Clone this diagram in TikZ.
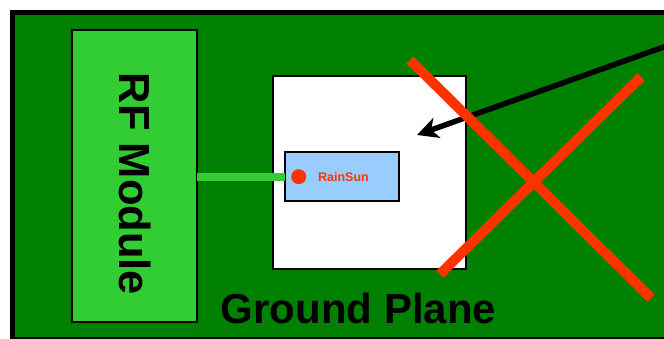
\documentclass[tikz,border=0pt]{standalone}
\usepackage{fontspec}
\setmainfont{Liberation Sans}
\usetikzlibrary{arrows.meta}
\definecolor{planegreen}{HTML}{008000}
\definecolor{modgreen}{HTML}{32CD32}
\definecolor{chipblue}{HTML}{99CCFF}
\definecolor{xred}{HTML}{FF3300}
\tikzset{
  box/.style={draw=black, line width=1.2pt, inner sep=0pt, outer sep=0pt},
  cross/.style={draw=xred, line width=10pt},
  pointer/.style={draw=black, line width=5.5pt, -{Stealth[length=21pt,width=21pt,inset=6pt]}},
}
\begin{document}
\begin{tikzpicture}[x=1pt,y=-1pt]
  \useasboundingbox (0,0) rectangle (664,338);
  \fill[white] (0,0) rectangle (664,338);
  \clip (0,0) rectangle (664,338);
  % ground plane
  \draw[fill=planegreen, line width=5pt] (12.5,12.5) rectangle (690,339);
  % RF module
  \node[box, fill=modgreen, minimum width=125pt, minimum height=292pt] (rf) at (134.5,176) {};
  \node[rotate=-90, font=\bfseries\fontsize{43.5}{44}\selectfont] (rflabel) at (135,184) {RF Module};
  % white keep-out area
  \node[box, fill=white, minimum width=193pt, minimum height=193pt] (keep) at (369.5,172.5) {};
  % chip
  \node[box, fill=chipblue, minimum width=114pt, minimum height=49pt] (chip) at (342,176.5) {};
  \fill[xred] (298.7,176.7) circle (7.5pt) coordinate (feed);
  \node[text=xred, font=\bfseries\fontsize{12.5}{13}\selectfont] (chiplabel) at (343.5,177) {RainSun};
  % feed line
  \draw[modgreen, line width=8pt] (rf.east |- feed) -- (chip.west |- feed);
  % pointer
  \coordinate (ptail) at (672,44);
  \coordinate (ptip) at (417,135);
  \draw[pointer] (ptail) -- (ptip);
  % red cross
  \coordinate (xa) at (410,60);
  \coordinate (xb) at (651,298);
  \coordinate (xc) at (641,77);
  \coordinate (xd) at (440,274);
  \draw[cross] (xa) -- (xb);
  \draw[cross] (xc) -- (xd);
  % label
  \node[font=\bfseries\fontsize{42}{44}\selectfont] (gp) at (358.5,308) {Ground Plane};
\end{tikzpicture}
\end{document}
